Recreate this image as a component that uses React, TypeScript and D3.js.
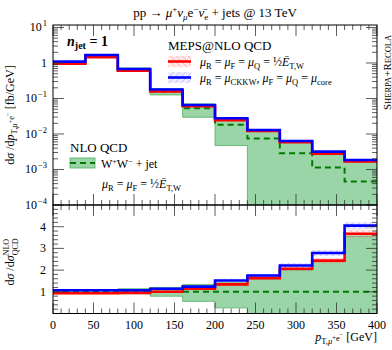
import React, { Component } from "react";
import * as d3 from "d3";

// bin edges in GeV (pT of the mu+ e- system)
const binEdges = [0, 40, 80, 120, 160, 200, 240, 280, 320, 360, 400];

// NLO QCD W+W- + jet, fb/GeV
const nloCentral = [1.02, 1.57, 0.636, 0.158, 0.0529, 0.0182, 0.00743, 0.00287, 0.00114, 0.000457];
const nloLow = [0.969, 1.49, 0.579, 0.126, 0.0296, 0.00473, 0, 0, 0, 0];
const nloHigh = [1.071, 1.664, 0.725, 0.19, 0.0704, 0.0258, 0.0119, 0.00574, 0.00274, 0.00163];

// MEPS@NLO, mu = 1/2 E_T,W (red)
const mepsEtw = [0.949, 1.46, 0.604, 0.158, 0.0603, 0.0244, 0.0121, 0.00591, 0.00278, 0.00168];
const mepsEtwUnc = [0.05, 0.05, 0.05, 0.06, 0.06, 0.06, 0.05, 0.05, 0.05, 0.05];

// MEPS@NLO, mu = mu_CKKW (blue)
const mepsCkkw = [1.09, 1.68, 0.68, 0.18, 0.0656, 0.0277, 0.013, 0.00635, 0.00318, 0.00185];
const mepsCkkwUnc = [0.04, 0.04, 0.04, 0.04, 0.05, 0.05, 0.05, 0.05, 0.05, 0.04];

const xTicks = [0, 50, 100, 150, 200, 250, 300, 350, 400];
const ratioTicks = [1, 2, 3, 4];
const decades = [-4, -3, -2, -1, 0, 1];

const W = 392;
const H = 350;
const left = 53;
const right = 377;
const topY = 25;
const midY = 205;
const botY = 313.5;

const GREEN_FILL = "#9ad5a7";
const GREEN_EDGE = "#4fae63";

class App extends Component {
  ref = React.createRef<SVGGElement>();

  componentDidMount() {
    this.drawChart();
  }

  drawChart() {
    const g = d3.select(this.ref.current);
    g.selectAll("*").remove();

    const x = d3.scaleLinear().domain([0, 400]).range([left, right]);
    const yTop = d3.scaleLog().domain([1e-4, Math.pow(10, 1.07)]).range([midY, topY]);
    const yRat = d3.scaleLinear().domain([0, 5]).range([botY, midY]);

    const defs = g.append("defs");
    defs.append("clipPath").attr("id", "clipTop").append("rect")
      .attr("x", left).attr("y", topY).attr("width", right - left).attr("height", midY - topY);
    defs.append("clipPath").attr("id", "clipBot").append("rect")
      .attr("x", left).attr("y", midY).attr("width", right - left).attr("height", botY - midY);

    const hatch = (id: string, col: string, bg: string, d: string) => {
      const p = defs.append("pattern").attr("id", id)
        .attr("patternUnits", "userSpaceOnUse").attr("width", 6).attr("height", 6);
      p.append("rect").attr("width", 6).attr("height", 6).attr("fill", bg);
      p.append("path").attr("d", d).attr("stroke", col).attr("stroke-width", 0.7);
    };
    hatch("hatchRed", "#ff9a9a", "rgba(255,0,0,0.09)", "M0,0L6,6M-1,5L1,7M5,-1L7,1");
    hatch("hatchBlue", "#a8a8ff", "rgba(0,0,255,0.07)", "M0,6L6,0M-1,1L1,-1M5,7L7,5");

    const steps = (lo: number[], hi: number[]) => {
      const pts = lo.map((v, i) => ({ e: binEdges[i], lo: v, hi: hi[i] }));
      pts.push({ e: 400, lo: lo[lo.length - 1], hi: hi[hi.length - 1] });
      return pts;
    };

    const drawPanel = (
      clip: string,
      ys: (v: number) => number,
      tr: (v: number, i: number) => number
    ) => {
      const panel = g.append("g").attr("clip-path", `url(#${clip})`);
      const area = d3.area<any>().curve(d3.curveStepAfter)
        .x(d => x(d.e)).y0(d => ys(d.lo)).y1(d => ys(d.hi));
      const line = d3.line<any>().curve(d3.curveStepAfter)
        .x(d => x(d.e)).y(d => ys(d.lo));

      const tf = (arr: number[]) => arr.map((v, i) => tr(v, i));

      panel.append("path")
        .attr("d", area(steps(tf(nloLow), tf(nloHigh))))
        .attr("fill", GREEN_FILL).attr("stroke", GREEN_EDGE).attr("stroke-width", 0.8);

      const rLo = mepsEtw.map((v, i) => v * (1 - mepsEtwUnc[i]));
      const rHi = mepsEtw.map((v, i) => v * (1 + mepsEtwUnc[i]));
      panel.append("path").attr("d", area(steps(tf(rLo), tf(rHi)))).attr("fill", "url(#hatchRed)");

      const bLo = mepsCkkw.map((v, i) => v * (1 - mepsCkkwUnc[i]));
      const bHi = mepsCkkw.map((v, i) => v * (1 + mepsCkkwUnc[i]));
      panel.append("path").attr("d", area(steps(tf(bLo), tf(bHi)))).attr("fill", "url(#hatchBlue)");

      panel.append("path").attr("d", line(steps(tf(nloCentral), tf(nloCentral))))
        .attr("fill", "none").attr("stroke", "#007a00").attr("stroke-width", 2)
        .attr("stroke-dasharray", "6,4");
      panel.append("path").attr("d", line(steps(tf(mepsEtw), tf(mepsEtw))))
        .attr("fill", "none").attr("stroke", "#ff0000").attr("stroke-width", 2.6);
      panel.append("path").attr("d", line(steps(tf(mepsCkkw), tf(mepsCkkw))))
        .attr("fill", "none").attr("stroke", "#0000ff").attr("stroke-width", 2.6);
    };

    drawPanel("clipTop", v => yTop(Math.max(v, 1e-4)), v => v);
    drawPanel("clipBot", v => yRat(Math.max(v, 0)), (v, i) => v / nloCentral[i]);

    // ticks
    const tk = g.append("g").attr("stroke", "#333").attr("stroke-width", 0.8);
    d3.range(0, 401, 10).forEach(v => {
      const len = v % 50 === 0 ? 11 : 5;
      [[topY, 1], [midY, -1], [midY, 1], [botY, -1]].forEach(([y0, dir]) => {
        tk.append("line").attr("x1", x(v)).attr("x2", x(v))
          .attr("y1", y0).attr("y2", y0 + dir * len);
      });
    });
    decades.forEach(dc => {
      d3.range(1, 10).forEach(k => {
        const v = k * Math.pow(10, dc);
        const [lo, hi] = yTop.domain();
        if (v < lo || v > hi) return;
        const len = k === 1 ? 11 : 5;
        const yy = yTop(v);
        tk.append("line").attr("x1", left).attr("x2", left + len).attr("y1", yy).attr("y2", yy);
        tk.append("line").attr("x1", right).attr("x2", right - len).attr("y1", yy).attr("y2", yy);
      });
    });
    d3.range(0.2, 5, 0.2).forEach(v => {
      const major = Math.abs(v - Math.round(v)) < 1e-6;
      const len = major ? 11 : 5;
      const yy = yRat(v);
      tk.append("line").attr("x1", left).attr("x2", left + len).attr("y1", yy).attr("y2", yy);
      tk.append("line").attr("x1", right).attr("x2", right - len).attr("y1", yy).attr("y2", yy);
    });

    // frames
    g.append("rect").attr("x", left).attr("y", topY).attr("width", right - left)
      .attr("height", midY - topY).attr("fill", "none").attr("stroke", "#000").attr("stroke-width", 1);
    g.append("rect").attr("x", left).attr("y", midY).attr("width", right - left)
      .attr("height", botY - midY).attr("fill", "none").attr("stroke", "#000").attr("stroke-width", 1);

    // tick labels
    const lab = g.append("g").attr("font-family", "'Liberation Serif', serif").attr("font-size", 12);
    xTicks.forEach(v => {
      lab.append("text").attr("x", x(v)).attr("y", 329).attr("text-anchor", "middle").text(v);
    });
    decades.forEach(dc => {
      const t = lab.append("text").attr("x", 47).attr("y", yTop(Math.pow(10, dc)) + 4)
        .attr("text-anchor", "end");
      if (dc === 0) {
        t.text("1");
      } else {
        t.append("tspan").text("10");
        t.append("tspan").attr("font-size", 8.5).attr("dy", -5).attr("dx", 1)
          .text(dc < 0 ? "\u2212" + -dc : String(dc));
      }
    });
    ratioTicks.forEach(v => {
      lab.append("text").attr("x", 46).attr("y", yRat(v) + 4).attr("text-anchor", "end").text(v);
    });
  }

  render() {
    const ff = "'Liberation Serif', serif";
    return (
      <svg width={W} height={H} style={{ position: "absolute", left: 0, top: 0, background: "#fff" }}
        fontFamily={ff}>
        <g ref={this.ref} />
        <text x={215} y={17} textAnchor="middle" fontSize={13}>
          {"pp \u2192 "}<tspan fontStyle="italic">μ</tspan>
          <tspan dy={-5} fontSize={9}>+</tspan>
          <tspan dy={5} fontStyle="italic">ν</tspan>
          <tspan dy={3} fontSize={9} fontStyle="italic">μ</tspan>
          <tspan dy={-3}>e</tspan>
          <tspan dy={-5} fontSize={9}>−</tspan>
          <tspan dy={5} fontStyle="italic">{"\u03bd\u0304"}</tspan>
          <tspan dy={3} fontSize={9}>e</tspan>
          <tspan dy={-3}>{" + jets @ 13 TeV"}</tspan>
        </text>

        <text transform="translate(14,115) rotate(-90)" textAnchor="middle" fontSize={12}>
          {"d"}<tspan fontStyle="italic">σ</tspan>{" /d"}<tspan fontStyle="italic">p</tspan>
          <tspan dy={3} fontSize={8.5}>T,</tspan><tspan fontSize={8.5} fontStyle="italic">μ</tspan>
          <tspan dy={-4} fontSize={6.5}>+</tspan>
          <tspan dy={1} fontSize={8.5}>e</tspan>
          <tspan dy={-4} fontSize={6.5}>−</tspan>
          <tspan dy={4}>{" [fb/GeV]"}</tspan>
        </text>

        <text transform="translate(14,262) rotate(-90)" textAnchor="middle" fontSize={12}>
          {"d"}<tspan fontStyle="italic">σ</tspan>{" /d"}<tspan fontStyle="italic">σ</tspan>
          <tspan dy={-5} fontSize={8}>NLO</tspan>
          <tspan dy={9} dx={-16.4} fontSize={8}>QCD</tspan>
        </text>

        <text x={377} y={341} textAnchor="end" fontSize={12}>
          <tspan fontStyle="italic">p</tspan>
          <tspan dy={3} fontSize={8.5}>T,</tspan><tspan fontSize={8.5} fontStyle="italic">μ</tspan>
          <tspan dy={-4} fontSize={6.5}>+</tspan>
          <tspan dy={1} fontSize={8.5}>e</tspan>
          <tspan dy={-4} fontSize={6.5}>−</tspan>
          <tspan dy={4}>{"  [GeV]"}</tspan>
        </text>

        <text transform="translate(391,110) rotate(-90)" fontSize={11}>
          S<tspan fontSize={8.5}>HERPA</tspan>+R<tspan fontSize={8.5}>ECOLA</tspan>
        </text>

        <text x={67} y={46} fontSize={14} fontWeight="bold">
          <tspan fontStyle="italic">n</tspan>
          <tspan dy={3} fontSize={10}>jet</tspan>
          <tspan dy={-3}>{" = 1"}</tspan>
        </text>

        {/* MEPS legend */}
        <text x={168} y={50} fontSize={13}>MEPS@NLO QCD</text>
        <rect x={168} y={56} width={23} height={11} fill="url(#hatchRed)" />
        <line x1={168} x2={191} y1={61.5} y2={61.5} stroke="#ff0000" strokeWidth={2.6} />
        <rect x={168} y={72} width={23} height={11} fill="url(#hatchBlue)" />
        <line x1={168} x2={191} y1={77.5} y2={77.5} stroke="#0000ff" strokeWidth={2.6} />
        <text x={200} y={66} fontSize={12}>
          <tspan fontStyle="italic">μ</tspan><tspan dy={3} fontSize={8.5}>R</tspan>
          <tspan dy={-3}>{" = "}</tspan><tspan fontStyle="italic">μ</tspan>
          <tspan dy={3} fontSize={8.5}>F</tspan>
          <tspan dy={-3}>{" = "}</tspan><tspan fontStyle="italic">μ</tspan>
          <tspan dy={3} fontSize={8.5}>Q</tspan>
          <tspan dy={-3}>{" = ½"}</tspan><tspan fontStyle="italic">{"\u0112"}</tspan>
          <tspan dy={3} fontSize={8.5}>T,W</tspan>
        </text>
        <text x={200} y={82} fontSize={12}>
          <tspan fontStyle="italic">μ</tspan><tspan dy={3} fontSize={8.5}>R</tspan>
          <tspan dy={-3}>{" = "}</tspan><tspan fontStyle="italic">μ</tspan>
          <tspan dy={3} fontSize={8.5}>CKKW</tspan>
          <tspan dy={-3}>{", "}</tspan><tspan fontStyle="italic">μ</tspan>
          <tspan dy={3} fontSize={8.5}>F</tspan>
          <tspan dy={-3}>{" = "}</tspan><tspan fontStyle="italic">μ</tspan>
          <tspan dy={3} fontSize={8.5}>Q</tspan>
          <tspan dy={-3}>{" = "}</tspan><tspan fontStyle="italic">μ</tspan>
          <tspan dy={3} fontSize={8.5}>core</tspan>
        </text>

        {/* NLO legend */}
        <text x={70} y={152} fontSize={13}>NLO QCD</text>
        <rect x={70} y={158} width={25} height={10} fill={GREEN_FILL} stroke={GREEN_EDGE} strokeWidth={0.8} />
        <line x1={70} x2={95} y1={163} y2={163} stroke="#007a00" strokeWidth={2} strokeDasharray="6,4" />
        <text x={101} y={168} fontSize={12}>
          W<tspan dy={-4} fontSize={8}>+</tspan><tspan dy={4}>W</tspan>
          <tspan dy={-4} fontSize={8}>−</tspan><tspan dy={4}>{" + jet"}</tspan>
        </text>
        <text x={102} y={188} fontSize={12}>
          <tspan fontStyle="italic">μ</tspan><tspan dy={3} fontSize={8.5}>R</tspan>
          <tspan dy={-3}>{" = "}</tspan><tspan fontStyle="italic">μ</tspan>
          <tspan dy={3} fontSize={8.5}>F</tspan>
          <tspan dy={-3}>{" = ½"}</tspan><tspan fontStyle="italic">{"\u0112"}</tspan>
          <tspan dy={3} fontSize={8.5}>T,W</tspan>
        </text>
      </svg>
    );
  }
}

export default App;
